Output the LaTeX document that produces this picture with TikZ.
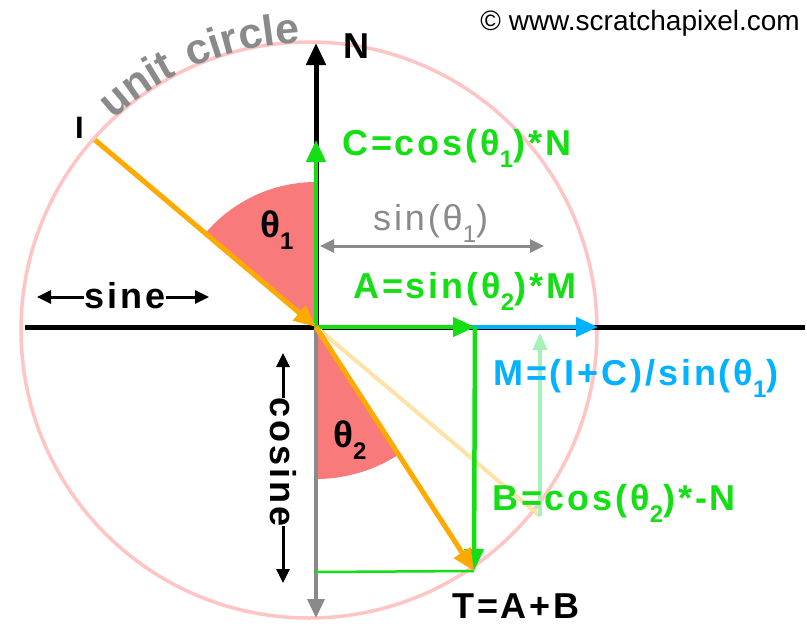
\documentclass[tikz,border=0pt]{standalone}
\usepackage{fontspec}
\usepackage{xcolor}
\usepackage{tikz}
\usetikzlibrary{arrows.meta,decorations.text}
\setmainfont{Liberation Sans}
\newfontfamily\LabelFont[LetterSpace=8]{Liberation Sans}
\definecolor{Lime}{RGB}{20,222,20}
\definecolor{Amber}{RGB}{255,170,0}
\definecolor{Sky}{RGB}{0,178,255}
\definecolor{Blush}{RGB}{255,196,196}
\definecolor{Salmon}{RGB}{248,122,122}
\definecolor{Ash}{RGB}{138,138,138}
\definecolor{PaleLime}{RGB}{165,242,185}
\definecolor{PaleAmber}{RGB}{255,226,165}
\newcommand{\Idx}[1]{\raisebox{-0.34em}{\fontsize{24}{24}\selectfont#1}}
\tikzset{
  vec/.style={line width=#1,-{Triangle[length=22pt,width=19pt]}},
  vec/.default=4.5pt,
  thin vec/.style={line width=3.5pt,-{Triangle[length=19pt,width=17pt]}},
  hint/.style={line width=3pt,{Triangle[length=14pt,width=13pt]}-{Triangle[length=14pt,width=13pt]}},
  lbl/.style={inner sep=0pt,font=\LabelFont\bfseries\fontsize{36}{36}\selectfont}
}
\begin{document}
\begin{tikzpicture}[x=1pt,y=-1pt]
  \useasboundingbox[fill=white] (0,0) rectangle (807,627);
  \coordinate (O) at (316,327);
  \coordinate (Circ) at (309,330);
  \coordinate (AxL) at (25,327);
  \coordinate (AxR) at (805,327);
  \coordinate (Ntip) at (316,43);
  \coordinate (Ctip) at (316,140);
  \coordinate (Itail) at (95,140);
  \coordinate (Atip) at (475,327);
  \coordinate (Mtip) at (598,327);
  \coordinate (Ttip) at (474,571);
  \coordinate (Tfoot) at (316,572);
  \coordinate (Bot) at (316,618);
  \coordinate (Rend) at (540,516);
  \coordinate (Rtip) at (540,333);
  \coordinate (SinL) at (320,246);
  \coordinate (SinR) at (544,246);

  \draw[Blush,line width=3.5pt] (Circ) circle[radius=288];
  \path[decorate,decoration={text along path,text color=Ash,
        text={|\LabelFont\bfseries\fontsize{43}{43}\selectfont|unit circle}}]
    (Circ) ++(-133:287) arc[start angle=-133,end angle=-85,radius=287];

  \fill[Salmon] (O) -- ++(-90:145) arc[start angle=-90,end angle=-139.8,radius=145] -- cycle;
  \fill[Salmon] (O) -- ++(90:152) arc[start angle=90,end angle=57.3,radius=152] -- cycle;

  \draw[line width=5pt] (AxL) -- (AxR);
  \draw[PaleAmber,line width=4pt] (O) -- (Rend);
  \draw[PaleLime,line width=4pt,-{Triangle[length=17pt,width=14pt]}] (Rend) -- (Rtip);
  \draw[Ash,thin vec] (O) -- (Bot);
  \draw[vec=5pt] (O) -- (Ntip);
  \draw[Sky,vec] (O) -- (Mtip);
  \draw[Lime,vec] (O) -- (Atip);
  \draw[Lime,vec] (O) -- (Ctip);
  \draw[Lime,vec] (Atip) -- (Ttip);
  \draw[Lime,line width=2.5pt] (Tfoot) -- (Ttip);
  \draw[Amber,vec=5pt] (O) -- (Ttip);
  \draw[Amber,vec=5pt] (Itail) -- (O);
  \draw[Ash,hint] (SinL) -- (SinR);

  \node[lbl,anchor=base west] (Nlbl) at (343,58) {N};
  \node[lbl,anchor=base west,font=\LabelFont\bfseries\fontsize{31}{31}\selectfont] (Ilbl) at (75,138) {I};
  \node[lbl,anchor=base west,Lime] (Clbl) at (342,155) {C=cos(θ\Idx{1})*N};
  \node[lbl,anchor=base west,Ash,font=\LabelFont\fontsize{36}{36}\selectfont] (Slbl) at (373,230) {sin(θ\Idx{1})};
  \node[lbl,anchor=base west,Lime] (Albl) at (353,298) {A=sin(θ\Idx{2})*M};
  \node[lbl,anchor=base west,Sky] (Mlbl) at (493,385) {M=(I+C)/sin(θ\Idx{1})};
  \node[lbl,anchor=base west,Lime] (Blbl) at (492,510) {B=cos(θ\Idx{2})*-N};
  \node[lbl,anchor=base west] (Tlbl) at (452,618) {T=A+B};
  \node[lbl,anchor=base west,font=\LabelFont\bfseries\fontsize{37}{37}\selectfont] (th1) at (260,237) {θ\Idx{1}};
  \node[lbl,anchor=base west,font=\LabelFont\bfseries\fontsize{37}{37}\selectfont] (th2) at (333,447) {θ\Idx{2}};
  \node[anchor=base east,inner sep=0pt,font=\fontsize{28}{28}\selectfont] (copy) at (800,30) {© www.scratchapixel.com};

  \node[lbl,anchor=base] (sine) at (125,308) {sine};
  \coordinate (sineL) at (37,297);
  \coordinate (sineR) at (209,297);
  \draw[line width=3pt,-{Triangle[length=14pt,width=13pt]}] (sine.west |- sineL) -- (sineL);
  \draw[line width=3pt,-{Triangle[length=14pt,width=13pt]}] (sine.east |- sineR) -- (sineR);

  \node[lbl,rotate=-90] (cosine) at (283,462) {cosine};
  \coordinate (cosT) at (283,353);
  \coordinate (cosB) at (283,583);
  \draw[line width=3pt,-{Triangle[length=14pt,width=13pt]}] (cosine.west -| cosT) -- (cosT);
  \draw[line width=3pt,-{Triangle[length=14pt,width=13pt]}] (cosine.east -| cosB) -- (cosB);
\end{tikzpicture}
\end{document}
